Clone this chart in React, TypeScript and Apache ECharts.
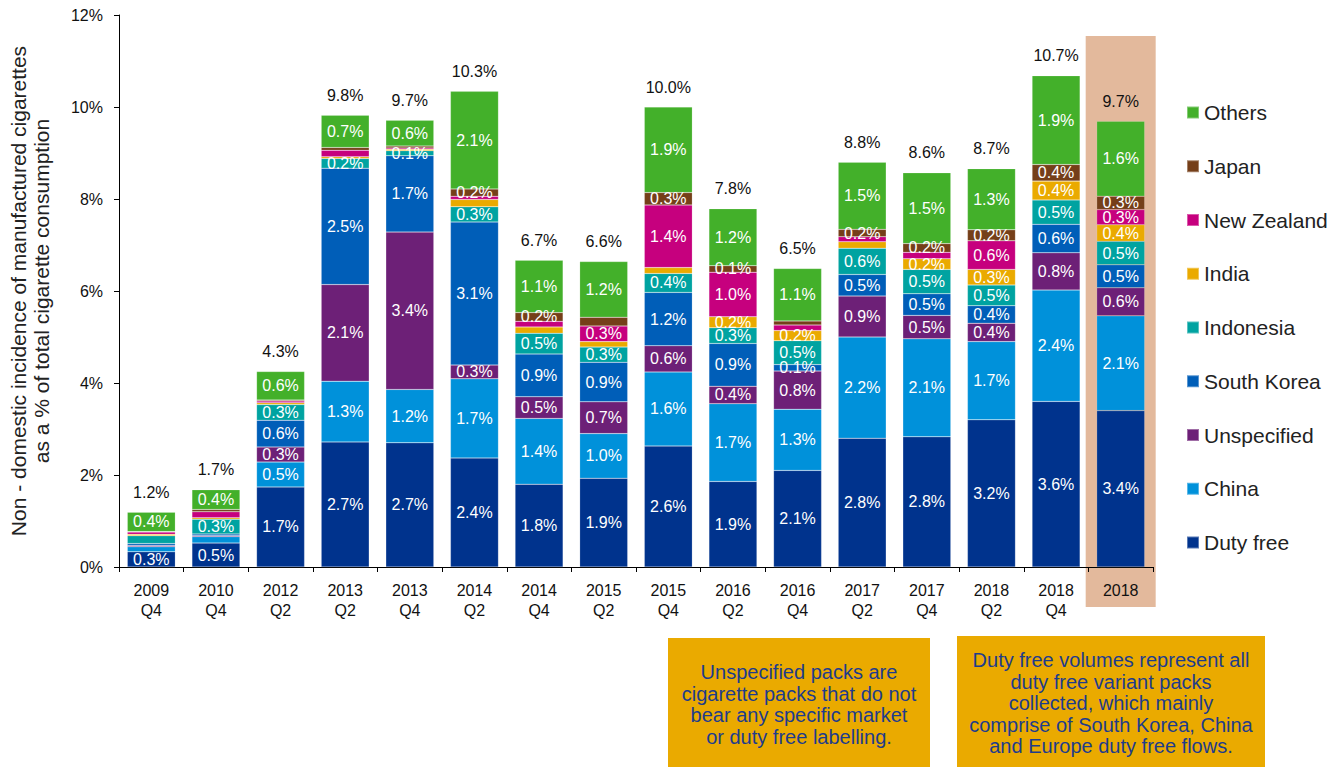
import React, { useEffect, useRef } from "react";
import * as echarts from "echarts";

const categories = [
  "2009 Q4", "2010 Q4", "2012 Q2", "2013 Q2", "2013 Q4", "2014 Q2", "2014 Q4", "2015 Q2",
  "2015 Q4", "2016 Q2", "2016 Q4", "2017 Q2", "2017 Q4", "2018 Q2", "2018 Q4", "2018",
];

const totals = [1.2, 1.7, 4.3, 9.8, 9.7, 10.3, 6.7, 6.6, 10.0, 7.8, 6.5, 8.8, 8.6, 8.7, 10.7, 9.7];

const dutyFree = [0.33, 0.52, 1.74, 2.72, 2.70, 2.37, 1.80, 1.93, 2.63, 1.86, 2.10, 2.80, 2.83, 3.20, 3.60, 3.40];
const china = [0.11, 0.14, 0.54, 1.32, 1.16, 1.72, 1.43, 0.97, 1.61, 1.69, 1.33, 2.20, 2.13, 1.70, 2.42, 2.06];
const unspecified = [0.03, 0.02, 0.33, 2.10, 3.42, 0.30, 0.47, 0.69, 0.57, 0.38, 0.83, 0.89, 0.51, 0.40, 0.81, 0.61];
const southKorea = [0.04, 0.04, 0.58, 2.53, 1.66, 3.11, 0.93, 0.86, 1.16, 0.93, 0.14, 0.47, 0.47, 0.38, 0.62, 0.50];
const indonesia = [0.17, 0.32, 0.34, 0.21, 0.11, 0.33, 0.45, 0.33, 0.41, 0.34, 0.52, 0.57, 0.53, 0.45, 0.53, 0.51];
const india = [0.03, 0.03, 0.04, 0.04, 0.03, 0.16, 0.14, 0.12, 0.13, 0.24, 0.22, 0.14, 0.23, 0.34, 0.41, 0.36];
const newZealand = [0.05, 0.13, 0.04, 0.14, 0.03, 0.07, 0.12, 0.34, 1.36, 0.97, 0.12, 0.11, 0.14, 0.62, 0.0, 0.33];
const japan = [0.01, 0.05, 0.02, 0.06, 0.04, 0.16, 0.19, 0.19, 0.27, 0.14, 0.09, 0.16, 0.19, 0.24, 0.36, 0.29];
const others = [0.42, 0.43, 0.62, 0.70, 0.56, 2.12, 1.14, 1.21, 1.86, 1.24, 1.14, 1.46, 1.54, 1.33, 1.93, 1.63];

// 1 = the segment carries a printed value label in the source chart
const dutyFreeLabels = [1, 1, 1, 1, 1, 1, 1, 1, 1, 1, 1, 1, 1, 1, 1, 1];
const chinaLabels = [0, 0, 1, 1, 1, 1, 1, 1, 1, 1, 1, 1, 1, 1, 1, 1];
const unspecifiedLabels = [0, 0, 1, 1, 1, 1, 1, 1, 1, 1, 1, 1, 1, 1, 1, 1];
const southKoreaLabels = [0, 0, 1, 1, 1, 1, 1, 1, 1, 1, 1, 1, 1, 1, 1, 1];
const indonesiaLabels = [0, 1, 1, 1, 1, 1, 1, 1, 1, 1, 1, 1, 1, 1, 1, 1];
const indiaLabels = [0, 0, 0, 0, 0, 0, 0, 0, 0, 1, 1, 0, 1, 1, 1, 1];
const newZealandLabels = [0, 0, 0, 0, 0, 0, 0, 1, 1, 1, 0, 0, 0, 1, 0, 1];
const japanLabels = [0, 0, 0, 0, 0, 1, 1, 0, 1, 1, 0, 1, 1, 1, 1, 1];
const othersLabels = [1, 1, 1, 1, 1, 1, 1, 1, 1, 1, 1, 1, 1, 1, 1, 1];

const legendOrder = ["Others", "Japan", "New Zealand", "India", "Indonesia", "South Korea", "Unspecified", "China", "Duty free"];

const note1 = "Unspecified packs are\ncigarette packs that do not\nbear any specific market\nor duty free labelling.";
const note2 = "Duty free volumes represent all\nduty free variant packs\ncollected, which mainly\ncomprise of South Korea, China\nand Europe duty free flows.";

const FONT = "'Liberation Sans', Arial, Helvetica, sans-serif";

export default function App() {
  const ref = useRef<HTMLDivElement>(null);

  useEffect(() => {
    if (!ref.current) return;
    const chart = echarts.init(ref.current, null, { renderer: "svg" });

    const mk = (name: string, data: number[], mask: number[], color: string) => ({
      name,
      type: "bar",
      stack: "total",
      barWidth: 48,
      itemStyle: { color, borderColor: "rgba(255,255,255,0.35)", borderWidth: 0.5 },
      label: {
        show: true,
        position: "inside",
        color: "#ffffff",
        fontSize: 16,
        fontFamily: FONT,
        formatter: (p: any) => Number(p.value).toFixed(1) + "%",
      },
      data: data.map((v, i) => ({ value: v, label: { show: !!mask[i] } })),
    });

    chart.setOption({
      animation: false,
      backgroundColor: "#ffffff",
      textStyle: { fontFamily: FONT },
      grid: { left: 119, top: 15, width: 1034, height: 552, containLabel: false, outerBoundsMode: "none" },
      legend: {
        orient: "vertical",
        left: 1186,
        top: 102,
        padding: 0,
        itemWidth: 12,
        itemHeight: 12,
        itemGap: 32.75,
        icon: "rect",
        data: legendOrder,
        textStyle: { fontSize: 21, lineHeight: 20, color: "#222222", fontFamily: FONT },
      },
      xAxis: {
        type: "category",
        data: categories,
        axisLine: { show: true, lineStyle: { color: "#000000", width: 1 } },
        axisTick: { show: true, length: 5, lineStyle: { color: "#000000" } },
        axisLabel: {
          interval: 0,
          fontSize: 16,
          lineHeight: 20,
          color: "#111111",
          margin: 13,
          fontFamily: FONT,
          formatter: (v: string) => v.replace(" ", "\n"),
        },
      },
      yAxis: {
        type: "value",
        min: 0,
        max: 12,
        interval: 2,
        splitLine: { show: false },
        axisLine: { show: true, lineStyle: { color: "#000000", width: 1 } },
        axisTick: { show: true, length: 5, lineStyle: { color: "#000000" } },
        axisLabel: { formatter: "{value}%", fontSize: 16, color: "#111111", margin: 16, fontFamily: FONT },
        name: "Non - domestic incidence of manufactured cigarettes\nas a % of total cigarette consumption",
        nameLocation: "middle",
        nameRotate: 90,
        nameGap: 66,
        nameTextStyle: { fontSize: 21, lineHeight: 23, color: "#222222", fontFamily: FONT },
      },
      series: [
        mk("Duty free", dutyFree, dutyFreeLabels, "#00338D"),
        mk("China", china, chinaLabels, "#0091DA"),
        mk("Unspecified", unspecified, unspecifiedLabels, "#6D2077"),
        mk("South Korea", southKorea, southKoreaLabels, "#005EB8"),
        mk("Indonesia", indonesia, indonesiaLabels, "#00A3A1"),
        mk("India", india, indiaLabels, "#EAAA00"),
        mk("New Zealand", newZealand, newZealandLabels, "#C6007E"),
        mk("Japan", japan, japanLabels, "#753F19"),
        mk("Others", others, othersLabels, "#43B02A"),
        {
          name: "Total",
          type: "bar",
          stack: "total",
          barWidth: 48,
          itemStyle: { color: "rgba(0,0,0,0)" },
          label: {
            show: true,
            position: "top",
            distance: 12,
            color: "#111111",
            fontSize: 16,
            fontFamily: FONT,
            formatter: (p: any) => totals[p.dataIndex].toFixed(1) + "%",
          },
          data: totals.map(() => 0),
        },
      ],
    });

    const cx = chart.convertToPixel({ xAxisIndex: 0 }, categories.length - 1) as number;

    chart.setOption({
      graphic: [
        {
          type: "rect",
          z: -1,
          silent: true,
          shape: { x: cx - 35, y: 36, width: 70, height: 571 },
          style: { fill: "#E3B99C" },
        },
        {
          type: "group",
          children: [
            { type: "rect", shape: { x: 668, y: 638, width: 262, height: 135 }, style: { fill: "#EAAA00" } },
            {
              type: "text",
              style: {
                text: note1,
                x: 799,
                y: 704.5,
                textAlign: "center",
                textVerticalAlign: "middle",
                fill: "#1E3C8C",
                font: "20px " + FONT,
                lineHeight: 21.5,
              },
            },
          ],
        },
        {
          type: "group",
          children: [
            { type: "rect", shape: { x: 957, y: 636, width: 308, height: 135 }, style: { fill: "#EAAA00" } },
            {
              type: "text",
              style: {
                text: note2,
                x: 1111,
                y: 703,
                textAlign: "center",
                textVerticalAlign: "middle",
                fill: "#1E3C8C",
                font: "20px " + FONT,
                lineHeight: 21.5,
              },
            },
          ],
        },
      ],
    });

    return () => chart.dispose();
  }, []);

  return (
    <div
      ref={ref}
      style={{ position: "fixed", left: 0, top: 0, width: 1336, height: 767, background: "#ffffff" }}
    />
  );
}
